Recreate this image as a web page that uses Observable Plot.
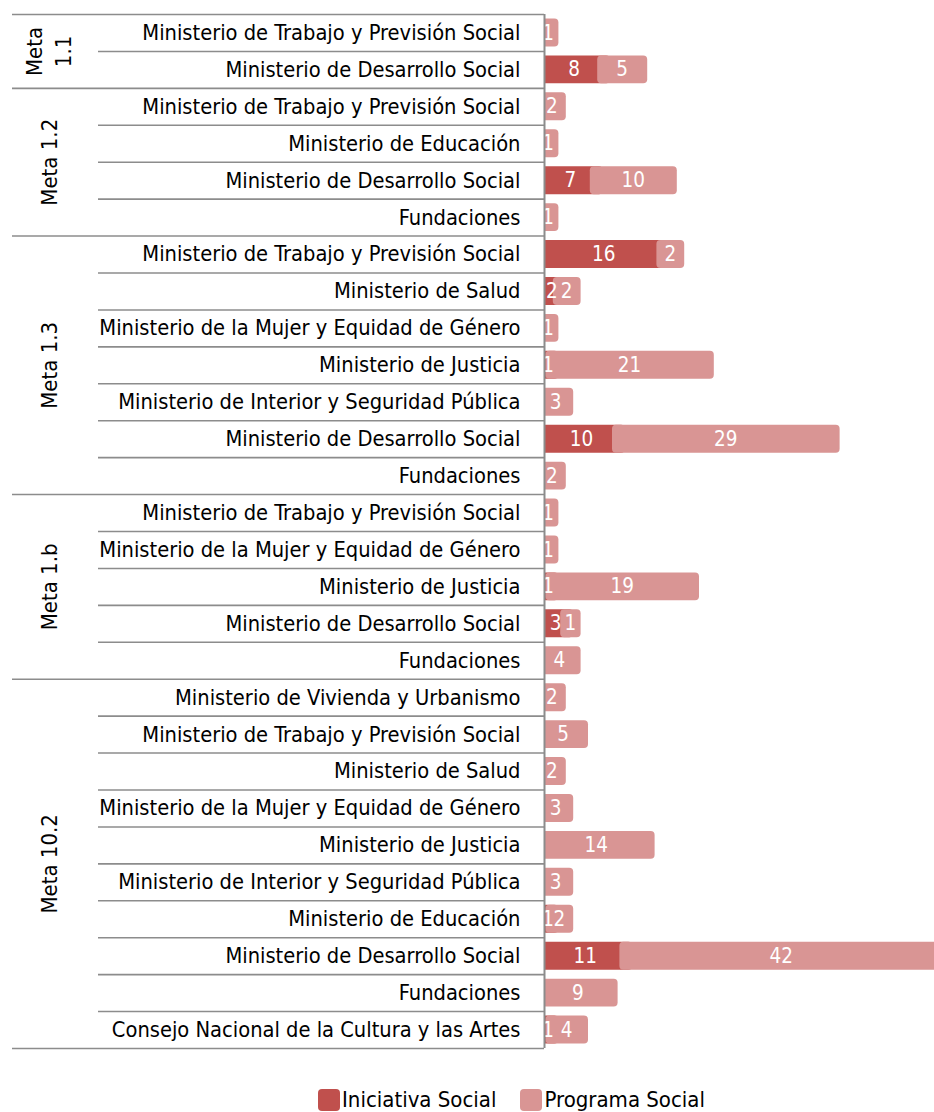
<!DOCTYPE html>
<html>
<head>
<meta charset="utf-8">
<script src="https://cdn.jsdelivr.net/npm/d3@7"></script>
<script src="https://cdn.jsdelivr.net/npm/@observablehq/plot@0.6"></script>
<style>
  html, body { margin: 0; padding: 0; background: #fff; }
  body { width: 934px; font-family: "Liberation Sans Narrow", "Arial Narrow", "DejaVu Sans Condensed", sans-serif; }
  #legend { display: flex; justify-content: center; align-items: center; gap: 24px; padding-left: 89px; margin-top: 8px; font-size: 22px; line-height: 24px; height: 24px; color: #000; }
  .item { display: flex; align-items: center; gap: 2px; }
  .sw { width: 22px; height: 22px; border-radius: 4px; display: inline-block; }
</style>
</head>
<body>
<div id="chart"></div>
<div id="legend"></div>
<script>
// ---- data ----
const metas = ["Meta 1.1","Meta 1.1",
  "Meta 1.2","Meta 1.2","Meta 1.2","Meta 1.2",
  "Meta 1.3","Meta 1.3","Meta 1.3","Meta 1.3","Meta 1.3","Meta 1.3","Meta 1.3",
  "Meta 1.b","Meta 1.b","Meta 1.b","Meta 1.b","Meta 1.b",
  "Meta 10.2","Meta 10.2","Meta 10.2","Meta 10.2","Meta 10.2","Meta 10.2","Meta 10.2","Meta 10.2","Meta 10.2","Meta 10.2"];
const ministerios = [
  "Ministerio de Trabajo y Previsión Social","Ministerio de Desarrollo Social",
  "Ministerio de Trabajo y Previsión Social","Ministerio de Educación","Ministerio de Desarrollo Social","Fundaciones",
  "Ministerio de Trabajo y Previsión Social","Ministerio de Salud","Ministerio de la Mujer y Equidad de Género","Ministerio de Justicia","Ministerio de Interior y Seguridad Pública","Ministerio de Desarrollo Social","Fundaciones",
  "Ministerio de Trabajo y Previsión Social","Ministerio de la Mujer y Equidad de Género","Ministerio de Justicia","Ministerio de Desarrollo Social","Fundaciones",
  "Ministerio de Vivienda y Urbanismo","Ministerio de Trabajo y Previsión Social","Ministerio de Salud","Ministerio de la Mujer y Equidad de Género","Ministerio de Justicia","Ministerio de Interior y Seguridad Pública","Ministerio de Educación","Ministerio de Desarrollo Social","Fundaciones","Consejo Nacional de la Cultura y las Artes"];
const iniciativa = [0,8, 0,0,7,0, 16,2,0,1,0,10,0, 0,0,1,3,0, 0,0,0,0,0,0,1,11,0,1];
const programa   = [1,5, 2,1,10,1, 2,2,1,21,3,29,2, 1,1,19,1,4, 2,5,2,3,14,3,2,42,9,4];
const metaLabels = {"Meta 1.1": "Meta\n1.1"};
const seriesNames = ["Iniciativa Social","Programa Social"];
const seriesColors = ["#C0504D","#D99594"];

// ---- derived tables ----
const rows = ministerios.map((m, i) => ({i, meta: metas[i], ministerio: m, ini: iniciativa[i], prog: programa[i]}));
const n = rows.length;
const darkSeg = rows.filter(d => d.ini > 0).map(d => ({i: d.i, x1: 0, x2: d.ini, v: d.ini}));
const lightSeg = rows.filter(d => d.prog > 0).map(d => ({i: d.i, x1: d.ini, x2: d.ini + d.prog, v: d.prog}));
const groups = d3.groups(rows, d => d.meta).map(([meta, rs]) => ({meta, start: rs[0].i, end: rs[rs.length - 1].i + 1}));
const groupBounds = [0, ...groups.map(g => g.end)];
const innerBounds = d3.range(1, n).filter(b => !groupBounds.includes(b));

const font = '"Liberation Sans Narrow", "Arial Narrow", "DejaVu Sans Condensed", sans-serif';
const grey = "#8c8c8c";

const chart = Plot.plot({
  width: 934,
  height: 1080,
  marginLeft: 544,
  marginRight: 0,
  marginTop: 14,
  marginBottom: 32,
  style: {fontFamily: font, background: "#fff"},
  x: {domain: [0, 52.7], axis: null},
  y: {domain: [0, n], reverse: true, axis: null},
  marks: [
    Plot.rect(darkSeg, {x1: "x1", x2: "x2", y1: d => d.i, y2: d => d.i + 1, fill: seriesColors[0],
      insetTop: 4.5, insetBottom: 4.5, insetLeft: -6, insetRight: -7, rx: 4, clip: true}),
    Plot.rect(lightSeg, {x1: "x1", x2: "x2", y1: d => d.i, y2: d => d.i + 1, fill: seriesColors[1],
      insetTop: 4.5, insetBottom: 4.5, insetLeft: -6, insetRight: -7, rx: 4, clip: true}),
    Plot.text(darkSeg, {x: d => (d.x1 + d.x2) / 2, y: d => d.i + 0.5, text: "v", fill: "#fff", fontSize: 20.5}),
    Plot.text(lightSeg, {x: d => (d.x1 + d.x2) / 2, y: d => d.i + 0.5, text: "v", fill: "#fff", fontSize: 20.5}),
    Plot.ruleY(innerBounds, {x1: 0, x2: 0, insetLeft: -446, stroke: grey, strokeWidth: 1.6}),
    Plot.ruleY(groupBounds, {x1: 0, x2: 0, insetLeft: -532, stroke: grey, strokeWidth: 1.6}),
    Plot.ruleX([0], {y1: 0, y2: n, stroke: grey, strokeWidth: 2}),
    Plot.text(rows, {x: 0, y: d => d.i + 0.5, text: "ministerio", textAnchor: "end", dx: -24, fill: "#000", fontSize: 21.7}),
    Plot.text(groups, {x: 0, y: d => (d.start + d.end) / 2, text: d => metaLabels[d.meta] ?? d.meta,
      rotate: -90, dx: -497, fill: "#000", fontSize: 22, lineHeight: 1.3})
  ]
});
document.getElementById("chart").append(chart);

const legend = document.getElementById("legend");
seriesNames.forEach((s, k) => {
  const it = document.createElement("div");
  it.className = "item";
  const sw = document.createElement("span");
  sw.className = "sw";
  sw.style.background = seriesColors[k];
  const t = document.createElement("span");
  t.textContent = s;
  it.append(sw, t);
  legend.append(it);
});
</script>
</body>
</html>
